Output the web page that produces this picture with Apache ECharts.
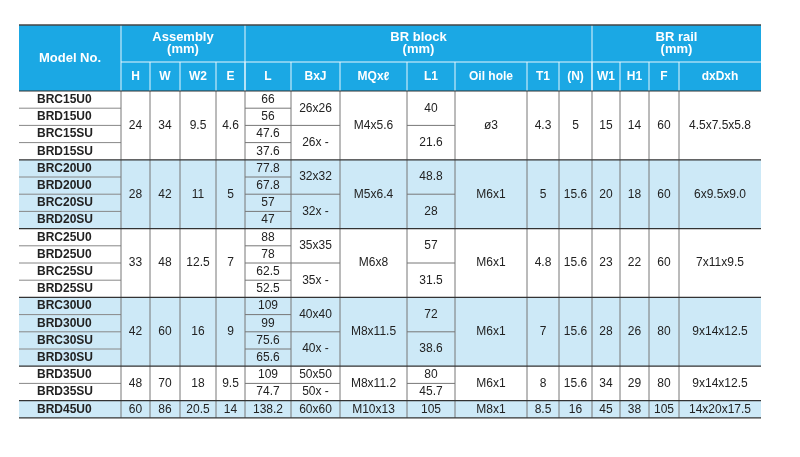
<!DOCTYPE html>
<html><head><meta charset="utf-8">
<script src="https://cdn.jsdelivr.net/npm/echarts@6/dist/echarts.min.js"></script>
<style>html,body{margin:0;background:#fff}#c{width:800px;height:457px}</style>
</head><body><div id="c"></div>
<script>
const groupTitles=[["Model No.",0,1],["Assembly\n(mm)",1,5],["BR block\n(mm)",5,12],["BR rail\n(mm)",12,16]];
const colHeads=["H","W","W2","E","L","BxJ","MQx\u2113","L1","Oil hole","T1","(N)","W1","H1","F","dxDxh"];
const colX=[19,121,150,180,216,245,291,340,407,455,527,559,592,620,649,679,761];
const models=["BRC15U0","BRD15U0","BRC15SU","BRD15SU","BRC20U0","BRD20U0","BRC20SU","BRD20SU","BRC25U0","BRD25U0","BRC25SU","BRD25SU","BRC30U0","BRD30U0","BRC30SU","BRD30SU","BRD35U0","BRD35SU","BRD45U0"];
const groupRows=[4,4,4,4,2,1];
const groupShaded=[false,true,false,true,false,true];
const g15=[["24"],["34"],["9.5"],["4.6"],["66","56","47.6","37.6"],["26x26","26x26","26x -","26x -"],["M4x5.6"],["40","40","21.6","21.6"],["\u00f83"],["4.3"],["5"],["15"],["14"],["60"],["4.5x7.5x5.8"]];
const g20=[["28"],["42"],["11"],["5"],["77.8","67.8","57","47"],["32x32","32x32","32x -","32x -"],["M5x6.4"],["48.8","48.8","28","28"],["M6x1"],["5"],["15.6"],["20"],["18"],["60"],["6x9.5x9.0"]];
const g25=[["33"],["48"],["12.5"],["7"],["88","78","62.5","52.5"],["35x35","35x35","35x -","35x -"],["M6x8"],["57","57","31.5","31.5"],["M6x1"],["4.8"],["15.6"],["23"],["22"],["60"],["7x11x9.5"]];
const g30=[["42"],["60"],["16"],["9"],["109","99","75.6","65.6"],["40x40","40x40","40x -","40x -"],["M8x11.5"],["72","72","38.6","38.6"],["M6x1"],["7"],["15.6"],["28"],["26"],["80"],["9x14x12.5"]];
const g35=[["48"],["70"],["18"],["9.5"],["109","74.7"],["50x50","50x -"],["M8x11.2"],["80","45.7"],["M6x1"],["8"],["15.6"],["34"],["29"],["80"],["9x14x12.5"]];
const g45=[["60"],["86"],["20.5"],["14"],["138.2"],["60x60"],["M10x13"],["105"],["M8x1"],["8.5"],["16"],["45"],["38"],["105"],["14x20x17.5"]];
const groups=[g15,g20,g25,g30,g35,g45];

(function(){
const yTop=25,mid=62,hb=91,rh=17.2;
const blue='#1ba8e4',light='#cde9f7',font='Liberation Sans, Arial, sans-serif';
const el=[];
const L=colX[0],R=colX[colX.length-1];
el.push({type:'rect',shape:{x:L,y:yTop,width:R-L,height:hb-yTop},style:{fill:blue}});
groupTitles.forEach(([t,a,b])=>{
  const x0=colX[a],x1=colX[b];
  const y1=a===0?hb:mid;
  el.push({type:'text',style:{text:t,x:(x0+x1)/2,y:(yTop+y1)/2,align:'center',verticalAlign:'middle',fill:'#fff',font:'bold 13px '+font,lineHeight:12}});
  if(a>0) el.push({type:'line',shape:{x1:x0,y1:yTop,x2:x0,y2:hb},style:{stroke:'#e8f6fd',lineWidth:1}});
});
el.push({type:'line',shape:{x1:colX[1],y1:mid,x2:R,y2:mid},style:{stroke:'#e8f6fd',lineWidth:1}});
colHeads.forEach((h,i)=>{
  const x0=colX[i+1],x1=colX[i+2];
  el.push({type:'text',style:{text:h,x:(x0+x1)/2,y:(mid+hb)/2,align:'center',verticalAlign:'middle',fill:'#fff',font:'bold 12px '+font}});
  if(i>0) el.push({type:'line',shape:{x1:x0,y1:mid,x2:x0,y2:hb},style:{stroke:'#e8f6fd',lineWidth:1}});
});
el.push({type:'line',shape:{x1:L,y1:yTop,x2:R,y2:yTop},style:{stroke:'#444',lineWidth:1.5}});
let row=0;
groups.forEach((g,gi)=>{
  const n=groupRows[gi];
  const y0=hb+row*rh,y1=y0+n*rh;
  if(groupShaded[gi]) el.push({type:'rect',shape:{x:L,y:y0,width:R-L,height:n*rh},style:{fill:light}});
  for(let r=0;r<n;r++){
    const yy=y0+r*rh;
    el.push({type:'text',style:{text:models[row+r],x:37,y:yy+rh/2,align:'left',verticalAlign:'middle',fill:'#222',font:'bold 12px '+font}});
    if(r>0) el.push({type:'line',shape:{x1:L,y1:yy,x2:colX[1],y2:yy},style:{stroke:'#888',lineWidth:1}});
  }
  g.forEach((vals,ci)=>{
    const x0=colX[ci+1],x1=colX[ci+2];
    const arr=vals.length===1?Array(n).fill(vals[0]):vals;
    let s=0;
    while(s<n){
      let e=s;while(e+1<n&&arr[e+1]===arr[s])e++;
      const ys=y0+s*rh,ye=y0+(e+1)*rh;
      el.push({type:'text',style:{text:arr[s],x:(x0+x1)/2,y:(ys+ye)/2,align:'center',verticalAlign:'middle',fill:'#222',font:'12px '+font}});
      if(s>0) el.push({type:'line',shape:{x1:x0,y1:ys,x2:x1,y2:ys},style:{stroke:'#777',lineWidth:1}});
      s=e+1;
    }
    el.push({type:'line',shape:{x1:x0,y1:y0,x2:x0,y2:y1},style:{stroke:'#777',lineWidth:1}});
  });
  el.push({type:'line',shape:{x1:L,y1:y0,x2:R,y2:y0},style:{stroke:'#333',lineWidth:1.2}});
  row+=n;
});
el.push({type:'line',shape:{x1:L,y1:hb+row*rh,x2:R,y2:hb+row*rh},style:{stroke:'#333',lineWidth:1.2}});
const chart=echarts.init(document.getElementById('c'));
chart.setOption({animation:false,graphic:{elements:el}});
})();
</script></body></html>
